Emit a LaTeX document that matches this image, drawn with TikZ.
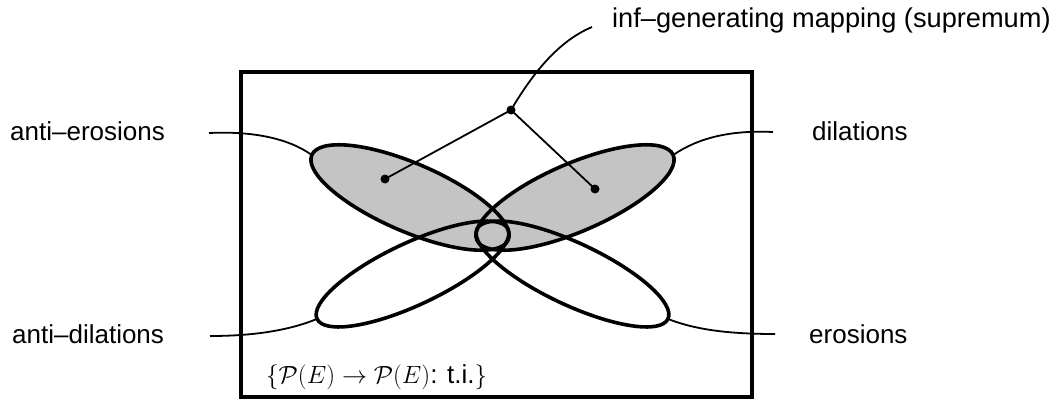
\documentclass[tikz,border=0pt]{standalone}
\usepackage[no-math]{fontspec}
\setmainfont{Liberation Sans}
\usetikzlibrary{shapes.geometric,backgrounds}
\definecolor{shade}{gray}{0.77}
\begin{document}
\begin{tikzpicture}[x=1pt,y=1pt,
  lab/.style={anchor=base west, inner sep=0pt, font=\fontsize{26}{30}\selectfont},
  lobe/.style={ellipse, inner sep=0pt, outer sep=0pt, line width=3.6pt},
  upper/.style={lobe, minimum width=214pt, minimum height=68pt},
  lower/.style={lobe, minimum width=211pt, minimum height=62pt},
  thinline/.style={line width=1.8pt},
  dotnode/.style={circle, fill=black, inner sep=0pt, minimum size=9pt},
  framebox/.style={draw, line width=3.2pt}
]
\useasboundingbox (0,0) rectangle (1057,400);
% frame
\draw[framebox] (241,3) rectangle (752,328);
% ellipses
\node[upper, draw, rotate=-23.4] (ul) at (410,202.5) {};
\node[upper, draw, rotate=23.4]  (ur) at (575,202.5) {};
\node[lower, draw, rotate=25.2]  (ll) at (412.5,126) {};
\node[lower, draw, rotate=-25.2] (lr) at (572.5,126) {};
\begin{scope}[on background layer]
  \node[upper, fill=shade, rotate=-23.4] (ulbg) at (ul.center) {};
  \node[upper, fill=shade, rotate=23.4]  (urbg) at (ur.center) {};
\end{scope}
% labels
\node[lab] (aero) at (10,260) {anti–erosions};
\node[lab] (dil)  at (812,260) {dilations};
\node[lab] (adil) at (12,57) {anti–dilations};
\node[lab] (ero)  at (809,57) {erosions};
\node[lab, font=\fontsize{27.2}{31}\selectfont] (inf) at (612,372) {inf–generating mapping (supremum)};
\node[lab] (set)  at (266,17) {$\{\mathcal{P}(E)\to\mathcal{P}(E)$: t.i.$\}$};
% label leaders
\coordinate (p1) at (209,267);
\coordinate (p2) at (773,268);
\coordinate (p3) at (210,64);
\coordinate (p4) at (775,66);
\draw[thinline] (p1) .. controls (252,269) and (288,262) .. (ul.west);
\draw[thinline] (p2) .. controls (730,270) and (698,262) .. (ur.east);
\draw[thinline] (p3) .. controls (255,64) and (290,70) .. (ll.west);
\draw[thinline] (p4) .. controls (730,66) and (696,70) .. (lr.east);
% inf-generating mapping
\node[dotnode] (j) at (511,290) {};
\node[dotnode] (ld) at (385,221) {};
\node[dotnode] (rd) at (595,211) {};
\coordinate (c) at (592,373);
\draw[thinline] (j.center) -- (ld.center);
\draw[thinline] (j.center) -- (rd.center);
\draw[thinline] (j.center) .. controls (530,322) and (556,358) .. (c);
\end{tikzpicture}
\end{document}
